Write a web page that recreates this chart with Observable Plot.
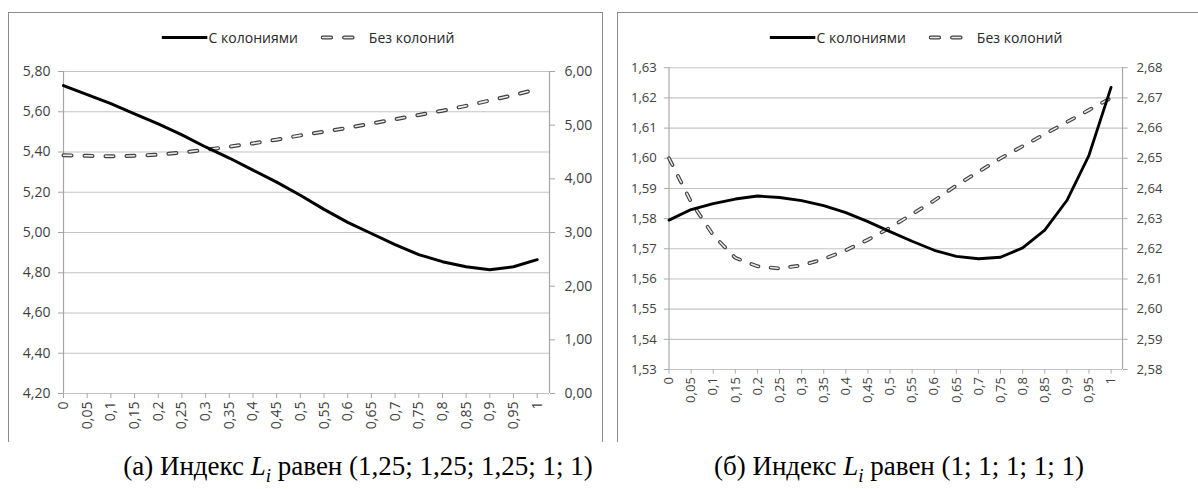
<!DOCTYPE html>
<html><head><meta charset="utf-8">
<script src="https://cdn.jsdelivr.net/npm/d3@7"></script>
<script src="https://cdn.jsdelivr.net/npm/@observablehq/plot@0.6"></script>
<style>
html,body{margin:0;padding:0;background:#fff;overflow:hidden;}
#root{position:relative;width:1198px;height:489px;overflow:hidden;font-family:"Open Sans",sans-serif;}
.frame{position:absolute;border:1.5px solid #8c8c8c;border-bottom:none;box-sizing:border-box;}
.plotbox{position:absolute;}
.legend{position:absolute;transform:translate(-50%,-50%);display:flex;align-items:center;white-space:nowrap;font-size:14px;color:#262626;}
.caption{position:absolute;transform:translate(-50%,-50%);white-space:nowrap;font-family:"Liberation Serif","Times New Roman",serif;font-size:27px;color:#000;}
</style></head>
<body><div id="root"></div>
<script>
// ---- data ----
const xCats = [0,0.05,0.1,0.15,0.2,0.25,0.3,0.35,0.4,0.45,0.5,0.55,0.6,0.65,0.7,0.75,0.8,0.85,0.9,0.95,1];
const seriesNames = ["С колониями", "Без колоний"];
// panel (a): left axis = with colonies, right axis = without colonies
const aWith    = [5.73,5.685,5.64,5.59,5.54,5.485,5.425,5.37,5.31,5.25,5.185,5.115,5.05,4.995,4.94,4.89,4.855,4.83,4.815,4.83,4.865];
const aWithout = [4.44,4.43,4.42,4.43,4.45,4.49,4.54,4.60,4.66,4.73,4.81,4.88,4.95,5.03,5.11,5.19,5.27,5.36,5.46,5.56,5.67];
const aLeftTicks  = [4.2,4.4,4.6,4.8,5.0,5.2,5.4,5.6,5.8];
const aRightTicks = [0,1,2,3,4,5,6];
// panel (b)
const bWith    = [1.5795,1.583,1.585,1.5865,1.5875,1.587,1.586,1.5843,1.582,1.579,1.5757,1.5725,1.5695,1.5675,1.5667,1.5672,1.5703,1.5762,1.586,1.601,1.6235];
const bWithout = [2.650,2.6355,2.6245,2.617,2.6142,2.6135,2.6145,2.6166,2.6195,2.623,2.627,2.6315,2.636,2.641,2.6455,2.650,2.654,2.658,2.662,2.666,2.670];
const bLeftTicks  = [1.53,1.54,1.55,1.56,1.57,1.58,1.59,1.60,1.61,1.62,1.63];
const bRightTicks = [2.58,2.59,2.60,2.61,2.62,2.63,2.64,2.65,2.66,2.67,2.68];
const captions = [
  {pre:"(а) Индекс ", post:" равен (1,25; 1,25; 1,25; 1; 1)"},
  {pre:"(б) Индекс ", post:" равен (1; 1; 1; 1; 1)"}
];

// ---- helpers ----
const fmt2 = d => d3.format(".2f")(d).replace(".", ",");
const fmtX = d => String(d).replace(".", ",");
const XMAX = 1.026;

function panel({withVals, withoutVals, yDomain, leftTicks, rightTicks, toLeft, fromLeft, width, marginRight}) {
  const dWith = xCats.map((x,i)=>({x, v: withVals[i]}));
  const dWithout = xCats.map((x,i)=>({x, v: toLeft(withoutVals[i])}));
  const dash = {x:"x", y:"v", strokeDasharray:"8,13", strokeLinecap:"round", strokeLinejoin:"round"};
  return Plot.plot({
    width, height: 430, marginLeft: 55, marginRight, marginTop: 59, marginBottom: 49,
    style: {fontFamily: "Open Sans", fontSize: "14px", background: "transparent", overflow: "visible"},
    x: {domain: [0, XMAX], axis: null},
    y: {domain: yDomain, axis: null},
    marks: [
      Plot.gridY(leftTicks, {stroke: "#c4c4c4", strokeOpacity: 1, strokeWidth: 1.2}),
      Plot.ruleX([0, XMAX], {stroke: "#a6a6a6", strokeWidth: 1.2}),
      Plot.axisY(leftTicks, {anchor: "left", label: null, tickSize: 5, tickPadding: 8, stroke: "#a6a6a6", fill: "#404040", fontSize: 14, tickFormat: fmt2}),
      Plot.axisY(rightTicks.map(toLeft), {anchor: "right", label: null, tickSize: 5, tickPadding: 10, stroke: "#a6a6a6", fill: "#404040", fontSize: 14, tickFormat: d => fmt2(fromLeft(d))}),
      Plot.axisX(xCats, {anchor: "bottom", label: null, tickSize: 5, tickPadding: 3, tickRotate: -90, stroke: "#a6a6a6", fill: "#404040", fontSize: 14, tickFormat: fmtX}),
      Plot.line(dWithout, {...dash, stroke: "#404040", strokeWidth: 4}),
      Plot.line(dWithout, {...dash, stroke: "#ececec", strokeWidth: 1.6}),
      Plot.line(dWith, {x: "x", y: "v", stroke: "#000", strokeWidth: 3})
    ]
  });
}

const root = document.getElementById("root");
function addFrame(left, top, width, height) {
  const f = document.createElement("div");
  f.className = "frame";
  Object.assign(f.style, {left: left+"px", top: top+"px", width: width+"px", height: height+"px"});
  root.appendChild(f);
}
function addPlot(svg, left, top) {
  const box = document.createElement("div");
  box.className = "plotbox";
  box.style.left = left + "px"; box.style.top = top + "px";
  box.appendChild(svg);
  root.appendChild(box);
}
function addLegend(cx, cy) {
  const lg = document.createElement("div");
  lg.className = "legend";
  lg.style.left = cx + "px"; lg.style.top = cy + "px";
  lg.innerHTML =
    `<svg width="46" height="8"><line x1="0" y1="4" x2="46" y2="4" stroke="#000" stroke-width="3"/></svg>` +
    `<span style="margin-left:1px">${seriesNames[0]}</span>` +
    `<svg width="37" height="8" style="margin-left:23px">` +
      `<line x1="2" y1="4" x2="35" y2="4" stroke="#404040" stroke-width="4" stroke-dasharray="8.5,13" stroke-linecap="round"/>` +
      `<line x1="2" y1="4" x2="35" y2="4" stroke="#ececec" stroke-width="1.6" stroke-dasharray="8.5,13" stroke-linecap="round"/></svg>` +
    `<span style="margin-left:11px">${seriesNames[1]}</span>`;
  root.appendChild(lg);
}
function addCaption(cx, cy, c) {
  const d = document.createElement("div");
  d.className = "caption";
  d.style.left = cx + "px"; d.style.top = cy + "px";
  d.innerHTML = `${c.pre}<i>L<sub style="font-size:0.7em">i</sub></i>${c.post}`;
  root.appendChild(d);
}

// panel a
addFrame(8, 12, 595, 430);
addPlot(panel({
  withVals: aWith, withoutVals: aWithout, yDomain: [4.2, 5.8],
  leftTicks: aLeftTicks, rightTicks: aRightTicks,
  toLeft: r => 4.2 + r * 1.6 / 6, fromLeft: d => (d - 4.2) * 6 / 1.6,
  width: 595, marginRight: 54
}), 8, 12);
addLegend(308, 37);

// panel b
addFrame(617, 12, 640, 430);
addPlot(panel({
  withVals: bWith, withoutVals: bWithout, yDomain: [1.53, 1.63],
  leftTicks: bLeftTicks, rightTicks: bRightTicks,
  toLeft: r => r - 1.05, fromLeft: d => d + 1.05,
  width: 620, marginRight: 81
}), 617, 12);
addLegend(916, 37);

addCaption(358, 469, captions[0]);
addCaption(899, 469, captions[1]);
</script>
</body></html>
